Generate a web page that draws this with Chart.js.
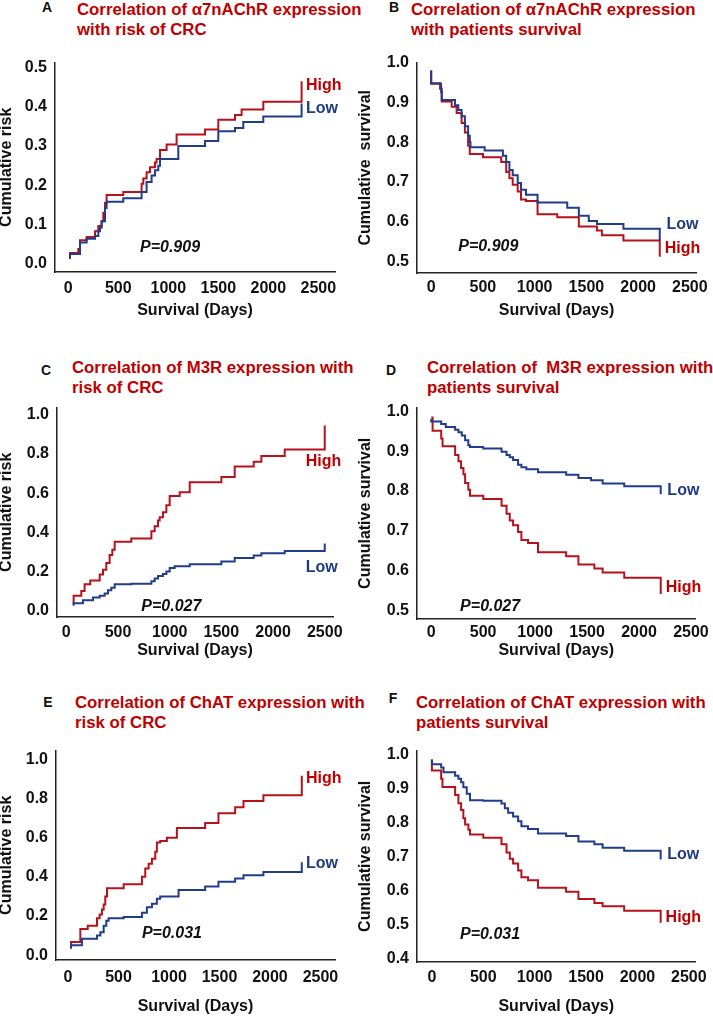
<!DOCTYPE html>
<html>
<head>
<meta charset="utf-8">
<script src="https://cdn.jsdelivr.net/npm/chart.js@4.4.1/dist/chart.umd.min.js"></script>
<style>
body { margin: 0; width: 713px; height: 1016px; overflow: hidden; background: #fff; position: relative; font-family: "Liberation Sans", Arial, sans-serif; }
canvas { position: absolute; }
.ttl { position: absolute; color: #C00000; font-weight: bold; font-size: 16.8px; line-height: 19.5px; white-space: pre; }
.lt { position: absolute; font-weight: bold; font-size: 14px; color: #111; transform: translate(-50%, -50%); }
</style>
</head>
<body>
<div class="lt" style="left:47px;top:7px">A</div>
<div class="ttl" style="left:77px;top:0px">Correlation of α7nAChR expression
with risk of CRC</div>
<div class="lt" style="left:394px;top:7px">B</div>
<div class="ttl" style="left:411px;top:0px">Correlation of α7nAChR expression
with patients survival</div>
<div class="lt" style="left:46px;top:370px">C</div>
<div class="ttl" style="left:72px;top:358px">Correlation of M3R expression with
risk of CRC</div>
<div class="lt" style="left:391px;top:370px">D</div>
<div class="ttl" style="left:427px;top:358px">Correlation of  M3R expression with
patients survival</div>
<div class="lt" style="left:48px;top:702px">E</div>
<div class="ttl" style="left:75px;top:693px">Correlation of ChAT expression with
risk of CRC</div>
<div class="lt" style="left:393px;top:698px">F</div>
<div class="ttl" style="left:416px;top:693px">Correlation of ChAT expression with
patients survival</div>

<canvas id="chartA" width="353" height="280" style="left:-3px;top:45px"></canvas>
<canvas id="chartB" width="357" height="280" style="left:356px;top:45px"></canvas>
<canvas id="chartC" width="353" height="275" style="left:-3px;top:390px"></canvas>
<canvas id="chartD" width="357" height="275" style="left:356px;top:390px"></canvas>
<canvas id="chartE" width="353" height="283" style="left:-3px;top:733px"></canvas>
<canvas id="chartF" width="357" height="283" style="left:356px;top:733px"></canvas>

<script>
// ===== TICKS =====
const xTicks = [0, 500, 1000, 1500, 2000, 2500];
const riskTicksSmall = [0, 0.1, 0.2, 0.3, 0.4, 0.5];
const riskTicks = [0, 0.2, 0.4, 0.6, 0.8, 1.0];
const survTicks = [0.5, 0.6, 0.7, 0.8, 0.9, 1.0];
const survTicksWide = [0.4, 0.5, 0.6, 0.7, 0.8, 0.9, 1.0];

// ===== PANEL A: a7nAChR, cumulative risk =====
const aHighDays = [17, 17, 100, 117, 183, 267, 300, 333, 350, 367, 383, 550, 733, 750, 783, 817, 867, 883, 917, 983, 1083, 1367, 1500, 1667, 1733, 1950, 2333, 2333];
const aHighRisk = [0.0125, 0.0275, 0.0375, 0.06, 0.068, 0.083, 0.096, 0.108, 0.13, 0.155, 0.175, 0.183, 0.204, 0.217, 0.233, 0.246, 0.258, 0.267, 0.29, 0.304, 0.329, 0.342, 0.367, 0.379, 0.393, 0.4125, 0.4125, 0.465];
const aLowDays = [17, 17, 117, 183, 267, 300, 317, 333, 367, 383, 550, 733, 783, 833, 867, 900, 917, 1100, 1367, 1500, 1667, 1750, 1950, 2333, 2333];
const aLowRisk = [0.0125, 0.025, 0.054, 0.064, 0.071, 0.083, 0.092, 0.108, 0.142, 0.158, 0.167, 0.183, 0.208, 0.225, 0.238, 0.25, 0.267, 0.3, 0.3125, 0.3375, 0.346, 0.361, 0.375, 0.375, 0.408];

// ===== PANEL B: a7nAChR, survival =====
const bLowDays = [0, 0, 86, 102, 230, 262, 294, 326, 357, 373, 380, 517, 693, 725, 756, 788, 836, 868, 916, 1028, 1315, 1427, 1523, 1602, 1858, 2209, 2209];
const bLowSurv = [0.98, 0.948, 0.934, 0.906, 0.893, 0.881, 0.865, 0.84, 0.816, 0.8, 0.787, 0.779, 0.766, 0.75, 0.73, 0.717, 0.697, 0.68, 0.668, 0.648, 0.635, 0.615, 0.602, 0.594, 0.582, 0.582, 0.553];
const bHighDays = [0, 0, 96, 102, 198, 246, 294, 326, 357, 373, 501, 677, 725, 756, 788, 836, 868, 916, 1028, 1219, 1427, 1602, 1650, 1858, 2209, 2209];
const bHighSurv = [0.98, 0.947, 0.926, 0.902, 0.889, 0.873, 0.848, 0.824, 0.791, 0.77, 0.762, 0.75, 0.725, 0.709, 0.693, 0.676, 0.656, 0.652, 0.619, 0.611, 0.588, 0.578, 0.566, 0.553, 0.553, 0.512];

// ===== PANEL C: M3R, cumulative risk =====
const cHighDays = [71, 71, 145, 177, 232, 323, 355, 387, 419, 445, 468, 629, 823, 855, 887, 903, 935, 968, 1000, 1097, 1194, 1500, 1629, 1813, 1887, 2113, 2500, 2500];
const cHighRisk = [0.033, 0.075, 0.1, 0.134, 0.154, 0.184, 0.209, 0.243, 0.284, 0.31, 0.351, 0.368, 0.405, 0.431, 0.46, 0.477, 0.502, 0.538, 0.585, 0.605, 0.655, 0.682, 0.736, 0.76, 0.79, 0.823, 0.823, 0.945];
const cLowDays = [71, 71, 161, 258, 323, 371, 403, 435, 468, 629, 823, 855, 887, 935, 968, 1000, 1048, 1194, 1500, 1629, 1813, 1887, 2113, 2500, 2500];
const cLowRisk = [0.025, 0.037, 0.053, 0.067, 0.075, 0.087, 0.104, 0.117, 0.134, 0.137, 0.15, 0.164, 0.176, 0.187, 0.2, 0.217, 0.226, 0.237, 0.25, 0.268, 0.281, 0.293, 0.304, 0.304, 0.343];

// ===== PANEL D: M3R, survival =====
const dLowDays = [0, 0, 96, 140, 230, 262, 294, 326, 357, 373, 501, 677, 725, 756, 788, 836, 868, 916, 1028, 1299, 1417, 1538, 1650, 1858, 2209, 2209];
const dLowSurv = [0.981, 0.975, 0.969, 0.961, 0.954, 0.948, 0.94, 0.928, 0.915, 0.911, 0.907, 0.899, 0.891, 0.885, 0.878, 0.866, 0.86, 0.855, 0.847, 0.841, 0.833, 0.827, 0.819, 0.812, 0.812, 0.792];
const dHighDays = [0, 13, 96, 109, 230, 262, 287, 310, 326, 357, 373, 501, 677, 725, 756, 788, 836, 868, 932, 1028, 1299, 1417, 1570, 1650, 1858, 2209, 2209];
const dHighSurv = [0.985, 0.952, 0.932, 0.913, 0.891, 0.875, 0.858, 0.842, 0.82, 0.803, 0.788, 0.78, 0.763, 0.743, 0.726, 0.714, 0.697, 0.677, 0.669, 0.646, 0.636, 0.615, 0.605, 0.595, 0.582, 0.582, 0.541];

// ===== PANEL E: ChAT, cumulative risk =====
const eHighDays = [30, 30, 122, 195, 287, 313, 336, 353, 369, 386, 551, 732, 765, 798, 831, 864, 880, 913, 979, 1078, 1358, 1490, 1655, 1738, 1935, 2315, 2315];
const eHighRisk = [0.042, 0.067, 0.133, 0.15, 0.188, 0.208, 0.233, 0.258, 0.3, 0.342, 0.362, 0.4, 0.442, 0.467, 0.492, 0.528, 0.575, 0.583, 0.6, 0.65, 0.675, 0.725, 0.755, 0.787, 0.817, 0.817, 0.917];
const eLowDays = [30, 30, 138, 287, 320, 353, 379, 402, 551, 732, 781, 831, 880, 913, 1095, 1358, 1490, 1655, 1738, 1935, 2315, 2315];
const eLowRisk = [0.033, 0.05, 0.083, 0.1, 0.117, 0.15, 0.175, 0.188, 0.195, 0.217, 0.245, 0.262, 0.288, 0.3, 0.333, 0.35, 0.375, 0.392, 0.408, 0.425, 0.425, 0.475];

// ===== PANEL F: ChAT, survival =====
const fLowDays = [0, 0, 90, 113, 226, 258, 284, 306, 339, 371, 500, 677, 710, 742, 790, 839, 871, 935, 1032, 1306, 1426, 1581, 1661, 1871, 2226, 2226];
const fLowSurv = [0.987, 0.973, 0.963, 0.949, 0.939, 0.93, 0.92, 0.905, 0.886, 0.867, 0.865, 0.857, 0.843, 0.83, 0.819, 0.805, 0.79, 0.782, 0.769, 0.761, 0.745, 0.737, 0.727, 0.718, 0.718, 0.692];
const fHighDays = [0, 0, 90, 103, 226, 258, 284, 306, 323, 355, 371, 500, 677, 726, 758, 790, 839, 871, 935, 1032, 1306, 1426, 1581, 1661, 1871, 2226, 2226];
const fHighSurv = [0.987, 0.954, 0.93, 0.906, 0.882, 0.858, 0.838, 0.814, 0.795, 0.78, 0.766, 0.756, 0.737, 0.713, 0.694, 0.68, 0.66, 0.64, 0.631, 0.609, 0.597, 0.576, 0.564, 0.554, 0.541, 0.541, 0.506];

const RED = '#B5121B';
const BLUE = '#203C8A';
const RED_TEXT = '#C00000';
const BLUE_TEXT = '#1F3A7F';

Chart.defaults.font.family = "'Liberation Sans', Arial, sans-serif";
Chart.defaults.color = '#111';

function toPoints(days, vals) {
    return days.map((d, i) => ({ x: d, y: vals[i] }));
}

// draws High / Low / P labels at data coordinates
function textMarks(items) {
    return {
        id: 'textMarks',
        afterDatasetsDraw(chart) {
            const ctx = chart.ctx;
            const xs = chart.scales.x, ys = chart.scales.y;
            ctx.save();
            items.forEach(it => {
                ctx.font = (it.italic ? 'italic ' : '') + "bold 16px 'Liberation Sans', Arial, sans-serif";
                ctx.fillStyle = it.color;
                ctx.textAlign = 'left';
                ctx.textBaseline = 'middle';
                ctx.fillText(it.text, xs.getPixelForValue(it.x), ys.getPixelForValue(it.y));
            });
            ctx.restore();
        }
    };
}

function makePanel(id, p) {
    const ctx = document.getElementById(id);
    return new Chart(ctx, {
        type: 'line',
        data: {
            datasets: [
                { label: 'Low', data: toPoints(p.lowDays, p.lowVals), borderColor: BLUE, borderWidth: 2, stepped: true, pointRadius: 0, fill: false },
                { label: 'High', data: toPoints(p.highDays, p.highVals), borderColor: RED, borderWidth: 2, stepped: true, pointRadius: 0, fill: false }
            ]
        },
        options: {
            responsive: false,
            animation: false,
            layout: { padding: { top: p.padTop, right: p.padRight, left: 0, bottom: 0 } },
            plugins: { legend: { display: false }, tooltip: { enabled: false } },
            scales: {
                x: {
                    type: 'linear',
                    min: p.xMin, max: p.xMax,
                    afterBuildTicks: axis => { axis.ticks = xTicks.map(v => ({ value: v })); },
                    afterFit: s => { s.height = p.xH; },
                    grid: { display: false, drawTicks: false },
                    border: { display: true, color: '#222', width: 1.5 },
                    ticks: { font: { size: 16, weight: 'bold' }, color: '#111', padding: p.xPad, maxRotation: 0, autoSkip: false, callback: v => String(v) },
                    title: { display: true, text: 'Survival (Days)', font: { size: 16, weight: 'bold' }, color: '#111', padding: { top: 0, bottom: p.titlePad } }
                },
                y: {
                    type: 'linear',
                    min: p.yMin, max: p.yMax,
                    afterBuildTicks: axis => { axis.ticks = p.yTicks.map(v => ({ value: v })); },
                    afterFit: s => { s.width = p.yW; },
                    grid: { display: false, drawTicks: false },
                    border: { display: true, color: '#222', width: 1.5 },
                    ticks: { font: { size: 16, weight: 'bold' }, color: '#111', padding: 8, callback: v => v.toFixed(1) },
                    title: { display: true, text: p.yTitle, font: { size: 16, weight: 'bold' }, color: '#111', padding: { top: 0, bottom: 0 } }
                }
            }
        },
        plugins: [textMarks(p.marks)]
    });
}

makePanel('chartA', {
    lowDays: aLowDays, lowVals: aLowRisk, highDays: aHighDays, highVals: aHighRisk,
    xMin: -133, xMax: 2667, yMin: -0.021, yMax: 0.5125, yTicks: riskTicksSmall,
    yTitle: 'Cumulative risk', padTop: 13, padRight: 15, yW: 58, xH: 53, xPad: 7, titlePad: 5,
    marks: [
        { text: 'High', x: 2377, y: 0.454, color: RED_TEXT },
        { text: 'Low', x: 2377, y: 0.396, color: BLUE_TEXT },
        { text: 'P=0.909', x: 717, y: 0.042, color: '#111', italic: true }
    ]
});

makePanel('chartB', {
    lowDays: bLowDays, lowVals: bLowSurv, highDays: bHighDays, highVals: bHighSurv,
    xMin: -137, xMax: 2560, yMin: 0.471, yMax: 1.0, yTicks: survTicks,
    yTitle: 'Cumulative  survival', padTop: 13, padRight: 15, yW: 61, xH: 52, xPad: 5, titlePad: 5,
    marks: [
        { text: 'Low', x: 2273, y: 0.593, color: BLUE_TEXT },
        { text: 'High', x: 2257, y: 0.533, color: RED_TEXT },
        { text: 'P=0.909', x: 262, y: 0.537, color: '#111', italic: true }
    ]
});

makePanel('chartC', {
    lowDays: cLowDays, lowVals: cLowRisk, highDays: cHighDays, highVals: cHighRisk,
    xMin: -90, xMax: 2580, yMin: -0.033, yMax: 1.037, yTicks: riskTicks,
    yTitle: 'Cumulative risk', padTop: 13, padRight: 17, yW: 60, xH: 48, xPad: 6, titlePad: 5,
    marks: [
        { text: 'High', x: 2316, y: 0.761, color: RED_TEXT },
        { text: 'Low', x: 2316, y: 0.217, color: BLUE_TEXT },
        { text: 'P=0.027', x: 726, y: 0.02, color: '#111', italic: true }
    ]
});

makePanel('chartD', {
    lowDays: dLowDays, lowVals: dLowSurv, highDays: dHighDays, highVals: dHighSurv,
    xMin: -137, xMax: 2544, yMin: 0.478, yMax: 1.01, yTicks: survTicks,
    yTitle: 'Cumulative survival', padTop: 13, padRight: 16, yW: 61, xH: 46, xPad: 4, titlePad: 5,
    marks: [
        { text: 'Low', x: 2273, y: 0.8, color: BLUE_TEXT },
        { text: 'High', x: 2257, y: 0.558, color: RED_TEXT },
        { text: 'P=0.027', x: 278, y: 0.508, color: '#111', italic: true }
    ]
});

makePanel('chartE', {
    lowDays: eLowDays, lowVals: eLowRisk, highDays: eHighDays, highVals: eHighRisk,
    xMin: -119, xMax: 2644, yMin: -0.025, yMax: 1.045, yTicks: riskTicks,
    yTitle: 'Cumulative risk', padTop: 13, padRight: 15, yW: 59, xH: 56, xPad: 8, titlePad: 0,
    marks: [
        { text: 'High', x: 2357, y: 0.9, color: RED_TEXT },
        { text: 'Low', x: 2357, y: 0.467, color: BLUE_TEXT },
        { text: 'P=0.031', x: 732, y: 0.108, color: '#111', italic: true }
    ]
});

makePanel('chartF', {
    lowDays: fLowDays, lowVals: fLowSurv, highDays: fHighDays, highVals: fHighSurv,
    xMin: -145, xMax: 2565, yMin: 0.39, yMax: 1.013, yTicks: survTicksWide,
    yTitle: 'Cumulative survival', padTop: 13, padRight: 16, yW: 61, xH: 54, xPad: 6, titlePad: 0,
    marks: [
        { text: 'Low', x: 2290, y: 0.708, color: BLUE_TEXT },
        { text: 'High', x: 2274, y: 0.52, color: RED_TEXT },
        { text: 'P=0.031', x: 274, y: 0.472, color: '#111', italic: true }
    ]
});
</script>
</body>
</html>
